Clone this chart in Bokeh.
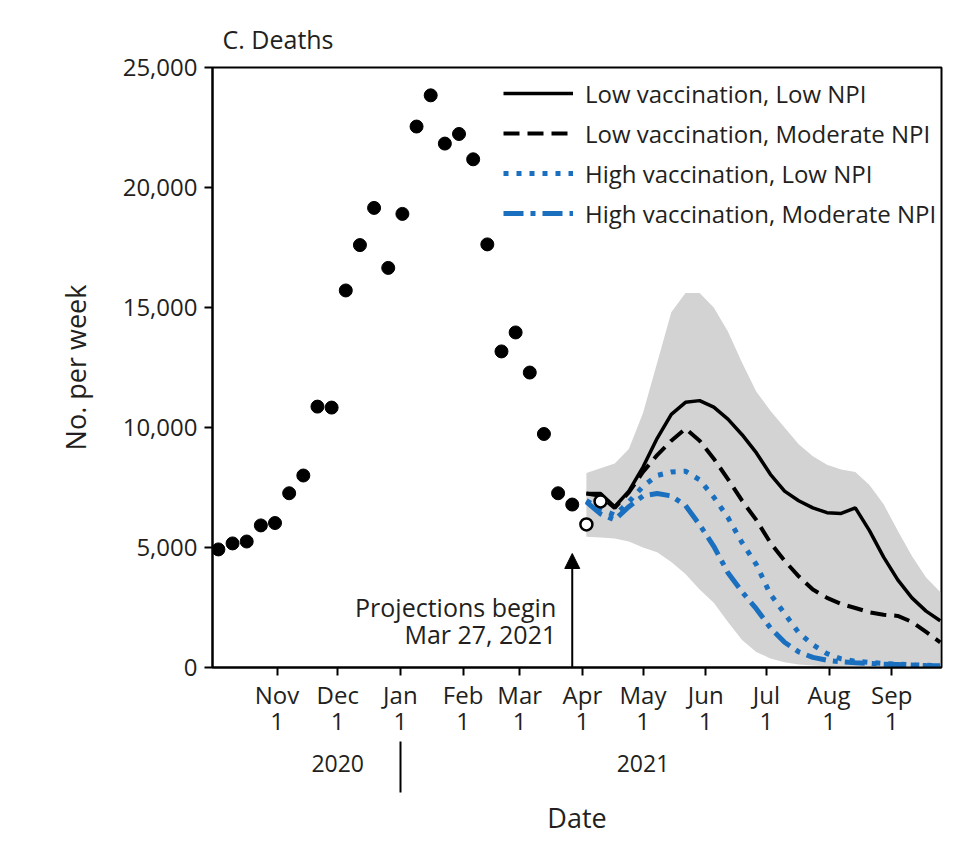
from datetime import datetime, timedelta
from bokeh.plotting import figure
from bokeh.models import (Range1d, FixedTicker, NumeralTickFormatter, LinearAxis,
                          Legend, LegendItem, Arrow, NormalHead, ColumnDataSource)
from bokeh.embed import file_html
from bokeh.resources import INLINE
from bokeh.core.properties import value

# ---------------- data ----------------
obs_start = datetime(2020, 10, 3)
obs_deaths = [4920, 5170, 5250, 5920, 6020, 7260, 8000, 10870, 10830, 15710,
              17600, 19150, 16650, 18900, 22540, 23840, 21830, 22230, 21175,
              17630, 13170, 13960, 12290, 9730, 7260, 6790]

recent_dates = [datetime(2021, 4, 3), datetime(2021, 4, 10)]
recent_deaths = [5960, 6920]

proj_start = datetime(2021, 4, 3)
low_vac_low_npi = [7250, 7250, 6700, 7350, 8350, 9550, 10550, 11050, 11120, 10850,
                   10350, 9700, 8950, 8050, 7350, 6950, 6650, 6450, 6420, 6650,
                   5700, 4600, 3650, 2900, 2350, 1950]
low_vac_mod_npi = [7250, 7150, 6650, 7300, 8150, 8850, 9450, 9950, 9450, 8700,
                   7850, 6950, 6150, 5200, 4450, 3800, 3250, 2900, 2650, 2480,
                   2300, 2200, 2150, 1900, 1480, 1050]
high_vac_low_npi = [6950, 6600, 6350, 6900, 7550, 8000, 8150, 8180, 7820, 7100,
                    6250, 5200, 4300, 3050, 2250, 1450, 950, 580, 360, 260,
                    210, 170, 140, 110, 90, 80]
high_vac_mod_npi = [6900, 6400, 6150, 6700, 7150, 7250, 7150, 6750, 5950, 5050,
                    3950, 3150, 2450, 1650, 1050, 650, 420, 300, 240, 200,
                    170, 140, 120, 100, 80, 70]
band_upper = [8100, 8300, 8500, 9100, 10600, 12700, 14800, 15600, 15600, 15000,
              14000, 12700, 11500, 10700, 10000, 9300, 8800, 8450, 8250, 8150,
              7600, 6800, 5700, 4650, 3750, 3150]
band_lower = [5450, 5420, 5380, 5250, 5000, 4800, 4400, 3900, 3250, 2700,
              1900, 1150, 650, 380, 220, 130, 80, 50, 30, 20, 10, 0, 0, 0, 0, 0]

series_labels = ["Low vaccination, Low NPI", "Low vaccination, Moderate NPI",
                 "High vaccination, Low NPI", "High vaccination, Moderate NPI"]

month_ticks = [datetime(2020, 11, 1), datetime(2020, 12, 1), datetime(2021, 1, 1),
               datetime(2021, 2, 1), datetime(2021, 3, 1), datetime(2021, 4, 1),
               datetime(2021, 5, 1), datetime(2021, 6, 1), datetime(2021, 7, 1),
               datetime(2021, 8, 1), datetime(2021, 9, 1)]
month_labels = ["Nov\n1", "Dec\n1", "Jan\n1", "Feb\n1", "Mar\n1", "Apr\n1",
                "May\n1", "Jun\n1", "Jul\n1", "Aug\n1", "Sep\n1"]
year_ticks = [datetime(2020, 12, 1), datetime(2021, 5, 1)]
year_labels = ["2020", "2021"]
year_break = [datetime(2021, 1, 1)]
y_ticks = [0, 5000, 10000, 15000, 20000, 25000]

proj_begin = datetime(2021, 3, 27)
note_text = ["Projections begin\nMar 27, 2021"]
note_y = [1950]
arrow_top = 4750

x_start = datetime(2020, 9, 30, 2)
x_end = datetime(2021, 9, 25, 15)

# ---------------- helpers ----------------
EPOCH = datetime(1970, 1, 1)
def ms(d):
    return (d - EPOCH).total_seconds() * 1000.0

obs_dates = [obs_start + timedelta(weeks=i) for i in range(len(obs_deaths))]
proj_dates = [proj_start + timedelta(weeks=i) for i in range(len(low_vac_low_npi))]

FONT = "Open Sans"
TXT = "#231f20"
BLUE = "#1a6fbf"

p = figure(frame_width=729, frame_height=600, x_axis_type="datetime",
           x_range=Range1d(x_start, x_end), y_range=Range1d(0, 25000),
           output_backend="svg", toolbar_location=None,
           min_border_left=212, min_border_right=5, min_border_top=67,
           min_border_bottom=167)
p.background_fill_color = "white"
p.border_fill_color = "white"
p.outline_line_color = "black"
p.outline_line_width = 2
p.xgrid.visible = False
p.ygrid.visible = False

p.title.text = "C. Deaths"
p.title.text_font = FONT
p.title.text_font_size = "25px"
p.title.text_font_style = "normal"
p.title.text_color = TXT
p.title.align = "left"
p.title.offset = 10
p.title.standoff = 24

# y axis
ya = p.yaxis[0]
ya.ticker = FixedTicker(ticks=y_ticks)
ya.formatter = NumeralTickFormatter(format="0,0")
ya.axis_label = "No. per week"
ya.axis_line_width = 2
ya.axis_line_color = "black"
ya.major_tick_line_width = 2
ya.major_tick_in = 0
ya.major_tick_out = 8
ya.minor_tick_line_color = None
ya.major_label_text_font = FONT
ya.major_label_text_font_size = "24px"
ya.major_label_text_color = TXT
ya.major_label_standoff = 7
ya.axis_label_text_font = FONT
ya.axis_label_text_font_size = "27px"
ya.axis_label_text_font_style = "normal"
ya.axis_label_text_color = TXT
ya.axis_label_standoff = 26

# main x axis (months)
xa = p.xaxis[0]
xa.ticker = FixedTicker(ticks=[ms(d) for d in month_ticks])
xa.major_label_overrides = {ms(d): lab for d, lab in zip(month_ticks, month_labels)}
xa.axis_line_width = 2
xa.axis_line_color = "black"
xa.major_tick_line_width = 2
xa.major_tick_in = 0
xa.major_tick_out = 8
xa.minor_tick_line_color = None
xa.major_label_text_font = FONT
xa.major_label_text_font_size = "24px"
xa.major_label_text_color = TXT
xa.major_label_text_line_height = 0.8
xa.major_label_standoff = 2

# year axis
yr = LinearAxis(ticker=FixedTicker(ticks=[ms(d) for d in year_ticks]),
                major_label_overrides={ms(d): lab for d, lab in zip(year_ticks, year_labels)})
yr.axis_line_color = None
yr.major_tick_line_color = None
yr.minor_tick_line_color = None
yr.major_tick_in = 0
yr.major_tick_out = 0
yr.major_label_text_font = FONT
yr.major_label_text_font_size = "23px"
yr.major_label_text_color = TXT
yr.major_label_standoff = 15
p.add_layout(yr, "below")

# year separator + "Date" label
sep = LinearAxis(ticker=FixedTicker(ticks=[ms(d) for d in year_break]),
                 major_label_overrides={ms(d): "" for d in year_break})
sep.axis_line_color = None
sep.minor_tick_line_color = None
sep.major_tick_line_color = "black"
sep.major_tick_line_width = 2
sep.major_tick_in = 33
sep.major_tick_out = 18
sep.major_label_text_font_size = "0px"
sep.major_label_standoff = 0
sep.axis_label = "Date"
sep.axis_label_text_font = FONT
sep.axis_label_text_font_size = "27px"
sep.axis_label_text_font_style = "normal"
sep.axis_label_text_color = TXT
sep.axis_label_standoff = 6
p.add_layout(sep, "below")

# band
p.varea(x=proj_dates, y1=band_lower, y2=band_upper, fill_color="#d3d3d3")

# projection lines
r1 = p.line(proj_dates, low_vac_low_npi, line_color="black", line_width=3.5)
r2 = p.line(proj_dates, low_vac_mod_npi, line_color="black", line_width=4,
            line_dash="16 8")
r3 = p.line(proj_dates, high_vac_low_npi, line_color=BLUE, line_width=5,
            line_dash="5 8")
r4 = p.line(proj_dates, high_vac_mod_npi, line_color=BLUE, line_width=5,
            line_dash="20 7 5 7")

# observed points
p.scatter(obs_dates, obs_deaths, size=13, fill_color="black", line_color="black")
p.scatter(recent_dates, recent_deaths, size=12, fill_color="white",
          line_color="black", line_width=2.5)

# annotation
p.add_layout(Arrow(end=NormalHead(size=15, fill_color="black", line_color="black"),
                   x_start=ms(proj_begin), y_start=0, x_end=ms(proj_begin),
                   y_end=arrow_top, line_color="black", line_width=2))
src = ColumnDataSource(dict(x=[proj_begin], y=note_y, t=note_text))
p.text(x="x", y="y", text="t", source=src, x_offset=-16, text_align="right",
       text_baseline="middle", text_font=value(FONT), text_font_size="25px",
       text_color=TXT, text_line_height=0.78)

legend = Legend(items=[LegendItem(label=series_labels[0], renderers=[r1]),
                       LegendItem(label=series_labels[1], renderers=[r2]),
                       LegendItem(label=series_labels[2], renderers=[r3]),
                       LegendItem(label=series_labels[3], renderers=[r4])],
                location=(291, 434), orientation="vertical")
legend.padding = 0
legend.margin = 0
legend.spacing = 0
legend.glyph_width = 70
legend.glyph_height = 40
legend.label_height = 40
legend.label_standoff = 12
legend.label_text_font = FONT
legend.label_text_font_size = "24px"
legend.label_text_color = TXT
legend.label_text_baseline = "middle"
legend.border_line_alpha = 0
legend.background_fill_alpha = 0
p.add_layout(legend, "center")

open("out.html", "w").write(file_html(p, INLINE))
